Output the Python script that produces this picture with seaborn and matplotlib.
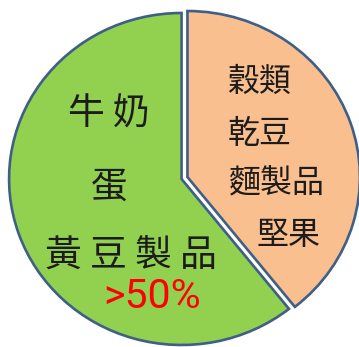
import matplotlib
matplotlib.use("Agg")
import matplotlib.pyplot as plt
import seaborn as sns

sns.set_theme(style="white")
plt.rcParams['font.family'] = ['Noto Sans CJK TC', 'DejaVu Sans']

# ---- data ----
groups = ['穀類 乾豆 麵製品 堅果', '牛奶 蛋 黃豆製品']
shares = [39.3, 60.7]
colors = ['#FABF8F', '#92D050']
peach_lines = ['穀類', '乾豆', '麵製品', '堅果']
green_lines = ['牛 奶', '蛋', '黃 豆 製 品']
pct_label = '>50%'

W, H = 359, 347
fig = plt.figure(figsize=(W / 100, H / 100), dpi=100)
ax = fig.add_axes([0, 0, 1, 1])

ax.pie(shares, colors=colors, startangle=90, counterclock=False,
       center=(0, 0), radius=1, explode=[0.018, 0.018],
       wedgeprops=dict(edgecolor='#3F5F86', linewidth=1.9))
# pie is slightly squashed vertically in the reference
cx_px, cy_px, rx, ry = 184.5, 178, 172.5, 166
ax.set_aspect('auto')
ax.set_xlim(-cx_px / rx, (W - cx_px) / rx)
ax.set_ylim(-(H - cy_px) / ry, cy_px / ry)
ax.axis('off')

def put(text, x_px, y_px, size, color='#1c1c1c', ha='center', family=None):
    kw = {}
    if family is not None:
        kw['family'] = family
    fig.text(x_px / W, 1 - y_px / H, text, fontsize=size, color=color,
             ha=ha, va='center', **kw)

# green slice labels
put(green_lines[0], 109, 114, 26.5)
put(green_lines[1], 109, 187, 26.5)
put(green_lines[2], 131, 255, 26.5)
put(pct_label, 152, 297, 29.5, color='#FF0000',
    family=['Roboto', 'Liberation Sans', 'DejaVu Sans'])

# peach slice labels
put(peach_lines[0], 228, 82, 23, ha='left')
put(peach_lines[1], 228, 134, 23, ha='left')
put(peach_lines[2], 228, 182, 23, ha='left')
put(peach_lines[3], 257, 235, 23, ha='left')

fig.savefig('out.png', dpi=100)
